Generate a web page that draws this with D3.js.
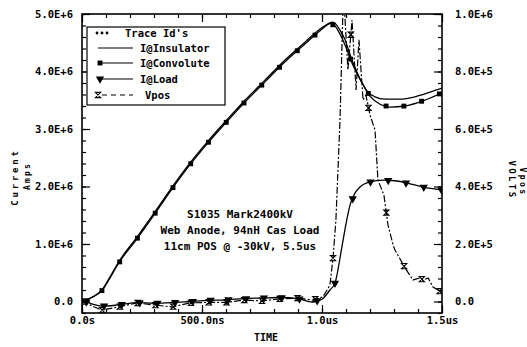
<!DOCTYPE html>
<html><head><meta charset="utf-8">
<script src="https://cdn.jsdelivr.net/npm/d3@7"></script>
<style>
html,body{margin:0;padding:0;background:#fff;}
svg{display:block;}
text{font-family:"DejaVu Sans Mono",monospace;font-weight:bold;fill:#000;}
</style></head>
<body><svg id="c" width="527" height="347"></svg>
<script>
// ---- data (time in microseconds) ----
const tInsulator = [0, 0.04, 0.083, 0.117, 0.15, 0.229, 0.304, 0.379, 0.45, 0.525, 0.604, 0.679, 0.7625, 0.846, 0.929, 0.992, 1.046, 1.075, 1.096, 1.117, 1.138, 1.167, 1.192, 1.221, 1.2625, 1.325, 1.3875, 1.45, 1.5];
const iInsulator = [0.0, 0.07, 0.2, 0.43, 0.67, 1.12, 1.56, 2.01, 2.41, 2.79, 3.16, 3.50, 3.85, 4.20, 4.51, 4.74, 4.86, 4.72, 4.55, 4.29, 4.06, 3.80, 3.64, 3.56, 3.52, 3.52, 3.56, 3.64, 3.71];

const tConvolute = [0, 0.04, 0.083, 0.117, 0.15, 0.229, 0.304, 0.379, 0.45, 0.525, 0.604, 0.679, 0.7625, 0.846, 0.929, 0.992, 1.04, 1.075, 1.096, 1.125, 1.167, 1.2, 1.242, 1.283, 1.346, 1.421, 1.5];
const iConvolute = [0.0, 0.07, 0.19, 0.41, 0.65, 1.09, 1.53, 1.98, 2.38, 2.76, 3.13, 3.47, 3.82, 4.17, 4.48, 4.71, 4.84, 4.65, 4.46, 4.15, 3.80, 3.57, 3.43, 3.38, 3.40, 3.49, 3.63];

const tLoad = [0, 0.04, 0.083, 0.15, 0.23, 0.3, 0.375, 0.45, 0.525, 0.6, 0.675, 0.75, 0.825, 0.9, 0.96, 1.0, 1.033, 1.054, 1.083, 1.1, 1.117, 1.138, 1.158, 1.2, 1.254, 1.304, 1.354, 1.421, 1.5];
const iLoad = [0.02, -0.04, -0.08, -0.06, -0.02, -0.03, -0.02, 0.0, 0.02, 0.03, 0.05, 0.06, 0.07, 0.05, -0.01, 0.04, 0.2, 0.32, 0.95, 1.35, 1.68, 1.89, 1.99, 2.08, 2.11, 2.10, 2.06, 1.99, 1.94];

const tVpos = [0, 0.04, 0.083, 0.15, 0.23, 0.3, 0.375, 0.45, 0.525, 0.6, 0.675, 0.75, 0.825, 0.9, 0.96, 1.004, 1.033, 1.046, 1.058, 1.075, 1.0875, 1.092, 1.108, 1.125, 1.142, 1.154, 1.171, 1.183, 1.2, 1.221, 1.233, 1.258, 1.275, 1.296, 1.304, 1.346, 1.379, 1.408, 1.421, 1.442, 1.4625, 1.483, 1.5];
const vVpos = [5, -15, -30, -19, -5, -12, -19, -5, -3, -3, 5, 2, 9, 12, 5, 16, 57, 151, 283, 631, 1025, 1040, 805, 979, 736, 910, 701, 718, 649, 596, 423, 370, 266, 197, 179, 117, 75, 82, 75, 82, 50, 40, 30];

const xMajorTicks = [0, 0.5, 1.0, 1.5];
const xTickLabels = ["0.0s", "500.0ns", "1.0us", "1.5us"];
const leftTicks = [0, 1, 2, 3, 4, 5];            // MA
const leftTickLabels = ["0.0", "1.0E+6", "2.0E+6", "3.0E+6", "4.0E+6", "5.0E+6"];
const rightTicks = [0, 200, 400, 600, 800, 1000]; // kV
const rightTickLabels = ["0.0", "2.0E+5", "4.0E+5", "6.0E+5", "8.0E+5", "1.0E+6"];

const legendLabels = ["Trace Id's", "I@Insulator", "I@Convolute", "I@Load", "Vpos"];
const noteLines = ["S1035 Mark2400kV", "Web Anode, 94nH Cas Load", "11cm POS @ -30kV, 5.5us"];

// ---- layout ----
const L = 82, R = 442, T = 14, B = 313;
const svg = d3.select("#c");
const x = d3.scaleLinear().domain([0, 1.5]).range([L, R]);
const yL = d3.scaleLinear().domain([-0.2, 5.0]).range([B, T]);
const yR = d3.scaleLinear().domain([-40, 1000]).range([B, T]);

svg.append("defs").append("clipPath").attr("id", "clip")
  .append("rect").attr("x", L).attr("y", T).attr("width", R - L).attr("height", B - T);

// axes
function styleAxis(g){ g.select(".domain").remove(); g.selectAll("line").attr("stroke","#000").attr("stroke-width",1.2); g.selectAll("text").style("font-size","10.5px").style("font-family","DejaVu Sans Mono").style("font-weight","bold"); }
const minorX = d3.range(0, 1.5001, 0.1).map(v => +v.toFixed(2));
const minorY = d3.range(-0.2, 5.0001, 0.2).map(v => +v.toFixed(2));
const minorYR = d3.range(-40, 1000.1, 40);

svg.append("g").attr("transform",`translate(0,${B})`).call(d3.axisBottom(x).tickValues(minorX).tickSizeInner(-4).tickSizeOuter(0).tickFormat("")).call(styleAxis);
svg.append("g").attr("transform",`translate(0,${B})`).call(d3.axisBottom(x).tickValues(xMajorTicks).tickSizeInner(-8).tickSizeOuter(0).tickPadding(4).tickFormat((d,i)=>xTickLabels[i])).call(styleAxis);
svg.append("g").attr("transform",`translate(0,${T})`).call(d3.axisTop(x).tickValues(minorX).tickSizeInner(-4).tickSizeOuter(0).tickFormat("")).call(styleAxis);
svg.append("g").attr("transform",`translate(0,${T})`).call(d3.axisTop(x).tickValues(xMajorTicks).tickSizeInner(-8).tickSizeOuter(0).tickFormat("")).call(styleAxis);
svg.append("g").attr("transform",`translate(${L},0)`).call(d3.axisLeft(yL).tickValues(minorY).tickSizeInner(-4).tickSizeOuter(0).tickFormat("")).call(styleAxis);
svg.append("g").attr("transform",`translate(${L},0)`).call(d3.axisLeft(yL).tickValues(leftTicks).tickSizeInner(-8).tickSizeOuter(0).tickPadding(9).tickFormat((d,i)=>leftTickLabels[i])).call(styleAxis);
svg.append("g").attr("transform",`translate(${R},0)`).call(d3.axisRight(yR).tickValues(minorYR).tickSizeInner(-4).tickSizeOuter(0).tickFormat("")).call(styleAxis);
svg.append("g").attr("transform",`translate(${R},0)`).call(d3.axisRight(yR).tickValues(rightTicks).tickSizeInner(-8).tickSizeOuter(0).tickPadding(13).tickFormat((d,i)=>rightTickLabels[i])).call(styleAxis);

// frame
svg.append("rect").attr("x", L).attr("y", T).attr("width", R - L).attr("height", B - T)
  .attr("fill","none").attr("stroke","#000").attr("stroke-width",1.6);

// axis titles
svg.append("text").attr("transform","translate(18,177) rotate(-90)").attr("text-anchor","middle")
  .style("font-size","9px").style("letter-spacing","2.8px").text("Current");
svg.append("text").attr("transform","translate(30,176) rotate(-90)").attr("text-anchor","middle")
  .style("font-size","8px").style("letter-spacing","2.2px").text("Amps");
svg.append("text").attr("transform","translate(509,180) rotate(90)").attr("text-anchor","middle")
  .style("font-size","9px").style("letter-spacing","2.4px").text("VOLTS");
svg.append("text").attr("transform","translate(520,182) rotate(90)").attr("text-anchor","middle")
  .style("font-size","8px").style("letter-spacing","2.4px").text("Vpos");
svg.append("text").attr("x",266).attr("y",341).attr("text-anchor","middle")
  .style("font-size","10px").text("TIME");

// series
const plot = svg.append("g").attr("clip-path","url(#clip)");
function series(ts, vs, ys, curve){
  const pts = ts.map((t,i)=>[t, vs[i]]);
  return {pts, ys, line: d3.line().x(d=>x(d[0])).y(d=>ys(d[1])).curve(curve)};
}
const sIns = series(tInsulator, iInsulator, yL, d3.curveMonotoneX);
const sConv = series(tConvolute, iConvolute, yL, d3.curveMonotoneX);
const sLoad = series(tLoad, iLoad, yL, d3.curveMonotoneX);
const sV = series(tVpos, vVpos, yR, d3.curveLinear);

plot.append("path").attr("d", sIns.line(sIns.pts)).attr("fill","none").attr("stroke","#000").attr("stroke-width",1.3);
plot.append("path").attr("d", sConv.line(sConv.pts)).attr("fill","none").attr("stroke","#000").attr("stroke-width",1.3);
plot.append("path").attr("d", sLoad.line(sLoad.pts)).attr("fill","none").attr("stroke","#000").attr("stroke-width",1.3);
plot.append("path").attr("d", sV.line(sV.pts)).attr("fill","none").attr("stroke","#000").attr("stroke-width",1.2).attr("stroke-dasharray","7,2,2,2");

// markers at regular time steps along each trace
function interp(ts, vs, t){ const i = Math.max(1, d3.bisectLeft(ts, t)); const t0=ts[i-1], t1=ts[i]; const f=(t-t0)/(t1-t0); return vs[i-1]+(vs[i]-vs[i-1])*f; }
const sqSym = d3.symbol().type(d3.symbolSquare).size(24);
const triSym = d3.symbol().type(d3.symbolTriangle).size(30);
function hourglass(cx, cy, s){ return `M${cx-s},${cy-s}L${cx+s},${cy-s}L${cx-s},${cy+s}L${cx+s},${cy+s}Z`; }
function markers(ts, vs, ys, phase, step, draw){
  for(let t = phase; t <= 1.5; t += step){
    const v = interp(ts, vs, t);
    if (ys(v) < T || ys(v) > B) continue;
    draw(x(t), ys(v));
  }
}
markers(tConvolute, iConvolute, yL, 0.083, 0.074, (px,py)=>plot.append("path").attr("d", sqSym()).attr("transform",`translate(${px},${py})`).attr("fill","#000"));
markers(tLoad, iLoad, yL, 0.018, 0.074, (px,py)=>plot.append("path").attr("d", triSym()).attr("transform",`translate(${px},${py}) rotate(180)`).attr("fill","#000"));
markers(tVpos, vVpos, yR, 0.01, 0.074, (px,py)=>plot.append("path").attr("d", hourglass(px,py,2.6)).attr("fill","none").attr("stroke","#000").attr("stroke-width",1.1));

// legend
const lg = svg.append("g");
lg.append("rect").attr("x",87).attr("y",27).attr("width",138).attr("height",78).attr("fill","#fff").attr("stroke","#000").attr("stroke-width",1.2);
const rows = [33, 48, 63, 79, 95];
[97, 102, 107].forEach(cx => lg.append("circle").attr("cx",cx).attr("cy",rows[0]).attr("r",1.4).attr("fill","#000"));
lg.append("line").attr("x1",98).attr("x2",133).attr("y1",rows[1]).attr("y2",rows[1]).attr("stroke","#000").attr("stroke-width",1.2);
lg.append("line").attr("x1",99).attr("x2",133).attr("y1",rows[2]).attr("y2",rows[2]).attr("stroke","#000").attr("stroke-width",1.2);
lg.append("path").attr("d", sqSym()).attr("transform",`translate(100,${rows[2]})`).attr("fill","#000");
lg.append("line").attr("x1",99).attr("x2",133).attr("y1",rows[3]).attr("y2",rows[3]).attr("stroke","#000").attr("stroke-width",1.2);
lg.append("path").attr("d", triSym()).attr("transform",`translate(100,${rows[3]}) rotate(180)`).attr("fill","#000");
lg.append("line").attr("x1",102).attr("x2",133).attr("y1",rows[4]).attr("y2",rows[4]).attr("stroke","#000").attr("stroke-width",1.2).attr("stroke-dasharray","5,4");
lg.append("path").attr("d", hourglass(98, rows[4], 2.6)).attr("fill","none").attr("stroke","#000").attr("stroke-width",1.1);
const lx = [125, 140, 140, 140, 145];
legendLabels.forEach((s,i)=> lg.append("text").attr("x",lx[i]).attr("y",rows[i]).attr("dy","0.35em").style("font-size","10.5px").text(s));

// annotation
noteLines.forEach((s,i)=> svg.append("text").attr("x",240).attr("y",214 + i*16).attr("dy","0.35em").attr("text-anchor","middle").style("font-size","11px").text(s));
</script></body></html>
